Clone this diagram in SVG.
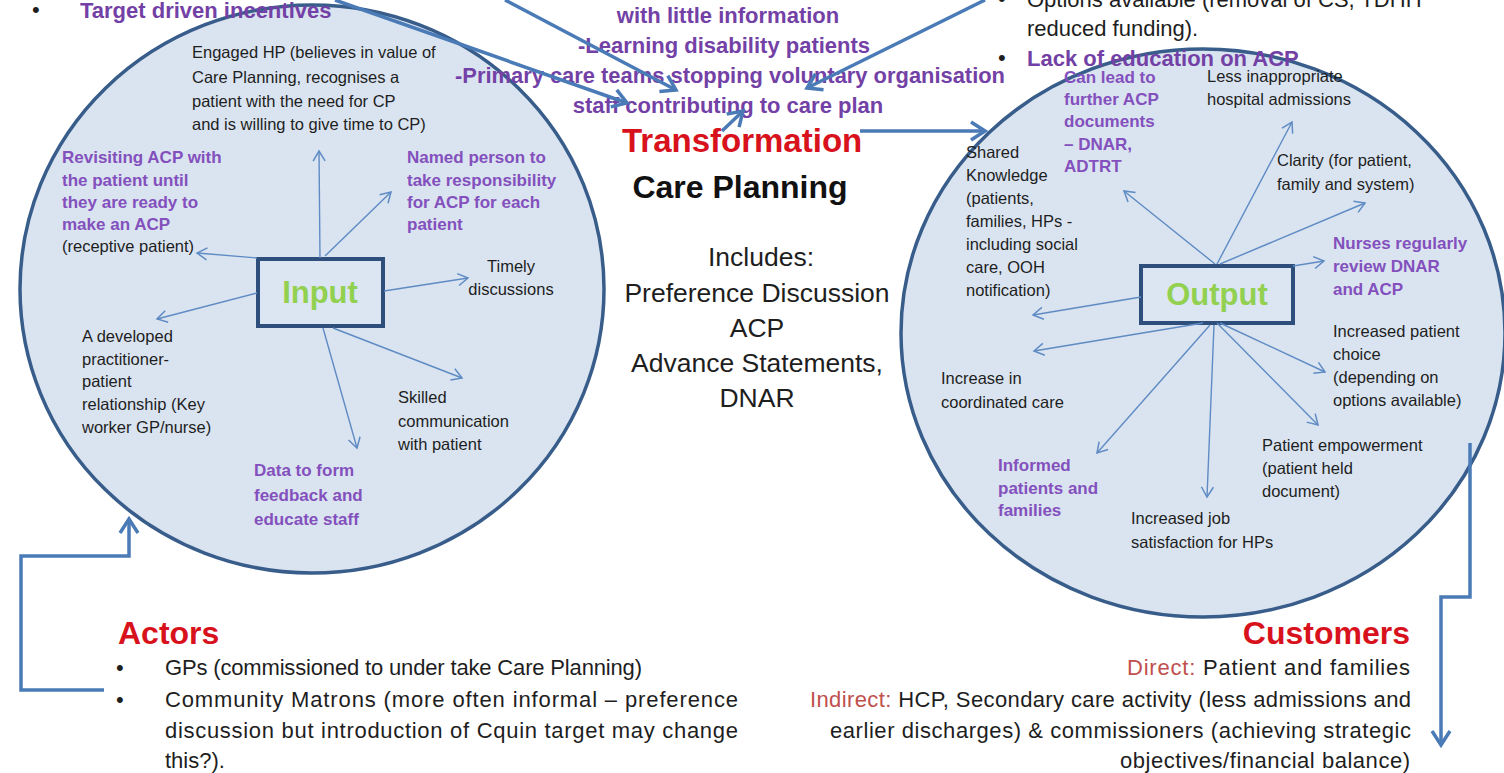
<svg xmlns="http://www.w3.org/2000/svg" width="1504" height="773" viewBox="0 0 1504 773">
<style>
text{font-family:"Liberation Sans",Arial,sans-serif}
.b{font-size:16.5px;fill:#1e1e1e}
.p{font-size:17px;font-weight:bold;fill:#8350bd}
.t{font-size:22px;font-weight:bold;fill:#7341a6}
.r{font-size:22px;fill:#1e1e1e}
.red{font-weight:bold;fill:#d8121c}
.sr{fill:#c0504d}
.grn{font-size:31px;font-weight:bold;fill:#92d050}
.circ{fill:#dae4f0;stroke:#385d8a;stroke-width:3.5}
.box{fill:#dce6f2;stroke:#2e4f7b;stroke-width:4}
.thin{stroke:#5f8bc4;stroke-width:1.4;fill:none;marker-end:url(#ah)}
.thick{stroke:#4a7bb7;stroke-width:3.5;fill:none;marker-end:url(#ahT)}
</style>
<defs>
<marker id="ah" markerUnits="userSpaceOnUse" viewBox="-12 -8 14 16" refX="0" refY="0" markerWidth="14" markerHeight="16" orient="auto">
<path d="M-10,-6 L0,0 L-10,6" fill="none" stroke="#5f8bc4" stroke-width="1.5"/>
</marker>
<marker id="ahT" markerUnits="userSpaceOnUse" viewBox="-18 -12 21 24" refX="0" refY="0" markerWidth="21" markerHeight="24" orient="auto">
<path d="M-14,-9 L0,0 L-14,9" fill="none" stroke="#4a7bb7" stroke-width="3.5"/>
</marker>
</defs>
<rect width="1504" height="773" fill="#ffffff"/>

<g id="input-circle">
<ellipse class="circ" cx="312" cy="289" rx="292" ry="284"/>
</g>
<g id="output-circle">
<ellipse class="circ" cx="1203" cy="333" rx="302" ry="284"/>
</g>

<g id="constraints-left">
<text x="32" y="17" class="r">•</text>
<text x="80" y="18" class="t">Target driven incentives</text>
</g>
<g id="constraints-center">
<text x="728" y="23" class="t" text-anchor="middle">with little information</text>
<text x="724" y="53" class="t" text-anchor="middle">-Learning disability patients</text>
<text x="730" y="83" class="t" text-anchor="middle" textLength="550" lengthAdjust="spacingAndGlyphs">-Primary care teams stopping voluntary organisation</text>
<text x="728" y="113" class="t" text-anchor="middle">staff contributing to care plan</text>
</g>
<g id="constraints-right">
<text x="998" y="6" class="r">•</text>
<text x="1027" y="7" class="r">Options available (removal of CS, TDHH</text>
<text x="1027" y="36" class="r">reduced funding).</text>
<text x="998" y="65" class="r">•</text>
<text x="1027" y="66" class="t">Lack of education on ACP</text>
</g>

<g id="transformation">
<text x="622" y="152" class="red" font-size="33">Transformation</text>
<text x="740" y="198" font-size="32" font-weight="bold" fill="#111" text-anchor="middle">Care Planning</text>
<g font-size="26.5" fill="#1e1e1e" text-anchor="middle">
<text x="761" y="266">Includes:</text>
<text x="757" y="302">Preference Discussion</text>
<text x="757" y="337">ACP</text>
<text x="757" y="372">Advance Statements,</text>
<text x="757" y="407">DNAR</text>
</g>
</g>

<g id="input-box">
<rect class="box" x="258" y="259" width="125" height="67"/>
<text x="320" y="303" class="grn" text-anchor="middle">Input</text>
</g>
<g id="output-box">
<rect class="box" x="1141" y="266" width="152" height="57"/>
<text x="1217" y="305" class="grn" text-anchor="middle">Output</text>
</g>

<g id="input-labels">
<text class="b"><tspan x="192" y="58">Engaged HP (believes in value of</tspan><tspan x="192" y="83">Care Planning, recognises a</tspan><tspan x="192" y="107">patient with the need for CP</tspan><tspan x="192" y="130">and is willing to give time to CP)</tspan></text>
<text class="p"><tspan x="62" y="163">Revisiting  ACP with</tspan><tspan x="62" y="186">the patient until</tspan><tspan x="62" y="208">they are ready to</tspan><tspan x="62" y="230">make an ACP</tspan></text>
<text class="b" x="62" y="252">(receptive patient)</text>
<text class="p"><tspan x="407" y="163">Named person to</tspan><tspan x="407" y="186">take responsibility</tspan><tspan x="407" y="208">for ACP for  each</tspan><tspan x="407" y="230">patient</tspan></text>
<text class="b" text-anchor="middle"><tspan x="511" y="272">Timely</tspan><tspan x="511" y="295">discussions</tspan></text>
<text class="b"><tspan x="82" y="342">A developed</tspan><tspan x="82" y="365">practitioner-</tspan><tspan x="82" y="387">patient</tspan><tspan x="82" y="410">relationship (Key</tspan><tspan x="82" y="433">worker GP/nurse)</tspan></text>
<text class="b"><tspan x="398" y="403">Skilled</tspan><tspan x="398" y="427">communication</tspan><tspan x="398" y="450">with patient</tspan></text>
<text class="p" font-size="19"><tspan x="254" y="476">Data to  form</tspan><tspan x="254" y="501">feedback and</tspan><tspan x="254" y="525">educate staff</tspan></text>
</g>

<g id="output-labels">
<text class="p"><tspan x="1064" y="83">Can lead to</tspan><tspan x="1064" y="105">further ACP</tspan><tspan x="1064" y="127">documents</tspan><tspan x="1064" y="150">– DNAR,</tspan><tspan x="1064" y="172">ADTRT</tspan></text>
<text class="b"><tspan x="1207" y="82">Less inappropriate</tspan><tspan x="1207" y="105">hospital admissions</tspan></text>
<text class="b"><tspan x="966" y="158">Shared</tspan><tspan x="966" y="181">Knowledge</tspan><tspan x="966" y="204">(patients,</tspan><tspan x="966" y="227">families, HPs -</tspan><tspan x="966" y="250">including social</tspan><tspan x="966" y="273">care, OOH</tspan><tspan x="966" y="296">notification)</tspan></text>
<text class="b"><tspan x="1277" y="166">Clarity (for patient,</tspan><tspan x="1277" y="190">family and system)</tspan></text>
<text class="p"><tspan x="1333" y="249">Nurses regularly</tspan><tspan x="1333" y="272">review DNAR</tspan><tspan x="1333" y="295">and ACP</tspan></text>
<text class="b"><tspan x="1333" y="337">Increased patient</tspan><tspan x="1333" y="360">choice</tspan><tspan x="1333" y="383">(depending on</tspan><tspan x="1333" y="406">options available)</tspan></text>
<text class="b"><tspan x="941" y="384">Increase in</tspan><tspan x="941" y="408">coordinated care</tspan></text>
<text class="b"><tspan x="1262" y="451">Patient empowerment</tspan><tspan x="1262" y="474">(patient held</tspan><tspan x="1262" y="497">document)</tspan></text>
<text class="p"><tspan x="998" y="471">Informed</tspan><tspan x="998" y="494">patients and</tspan><tspan x="998" y="516">families</tspan></text>
<text class="b"><tspan x="1131" y="524">Increased job</tspan><tspan x="1131" y="548">satisfaction for HPs</tspan></text>
</g>

<g id="actors">
<text x="118" y="644" class="red" font-size="32">Actors</text>
<text x="116" y="675" class="r">•</text>
<text x="165" y="675" class="r" textLength="477" lengthAdjust="spacing">GPs (commissioned to under take Care Planning)</text>
<text x="116" y="707" class="r">•</text>
<text x="165" y="707" class="r" textLength="573" lengthAdjust="spacing">Community Matrons (more often informal – preference</text>
<text x="165" y="738" class="r" textLength="573" lengthAdjust="spacing">discussion but introduction  of Cquin target may change</text>
<text x="165" y="768" class="r">this?).</text>
</g>

<g id="customers">
<text x="1410" y="644" class="red" font-size="32" text-anchor="end">Customers</text>
<text x="1127" y="675" class="r" textLength="283" lengthAdjust="spacing"><tspan class="sr">Direct:</tspan> Patient and families</text>
<text x="810" y="707" class="r" textLength="601" lengthAdjust="spacing"><tspan class="sr">Indirect:</tspan>  HCP, Secondary  care activity (less admissions and</text>
<text x="830" y="738" class="r" textLength="581" lengthAdjust="spacing">earlier discharges) &amp; commissioners (achieving strategic</text>
<text x="1120" y="768" class="r" textLength="290" lengthAdjust="spacing">objectives/financial balance)</text>
</g>

<g id="connectors">
<path class="thin" d="M320,258 L319,151"/>
<path class="thin" d="M325,256 L391,192"/>
<path class="thin" d="M257,258 L197,253"/>
<path class="thin" d="M384,291 L468,278"/>
<path class="thin" d="M257,293 L157,319"/>
<path class="thin" d="M333,328 L462,378"/>
<path class="thin" d="M323,328 L357,448"/>
<path class="thin" d="M1215,264 L1124,191"/>
<path class="thin" d="M1217,264 L1292,122"/>
<path class="thin" d="M1220,264 L1365,203"/>
<path class="thin" d="M1293,266 L1324,261"/>
<path class="thin" d="M1141,297 L1033,315"/>
<path class="thin" d="M1203,323 L1034,351"/>
<path class="thin" d="M1210,325 L1097,453"/>
<path class="thin" d="M1214,325 L1207,497"/>
<path class="thin" d="M1220,323 L1325,372"/>
<path class="thin" d="M1217,323 L1318,425"/>
<path class="thick" d="M505,0 L676,90"/>
<path class="thick" d="M335,0 L627,103"/>
<path class="thick" d="M985,0 L807,88"/>
<path class="thick" d="M722,131 L743,111"/>
<path class="thick" d="M860,131 L985,131"/>
<path class="thick" d="M104,690 L21,690 L21,556 L129,556 L129,519"/>
<path class="thick" d="M1470,443 L1470,597 L1441,597 L1441,745"/>
</g>
</svg>
